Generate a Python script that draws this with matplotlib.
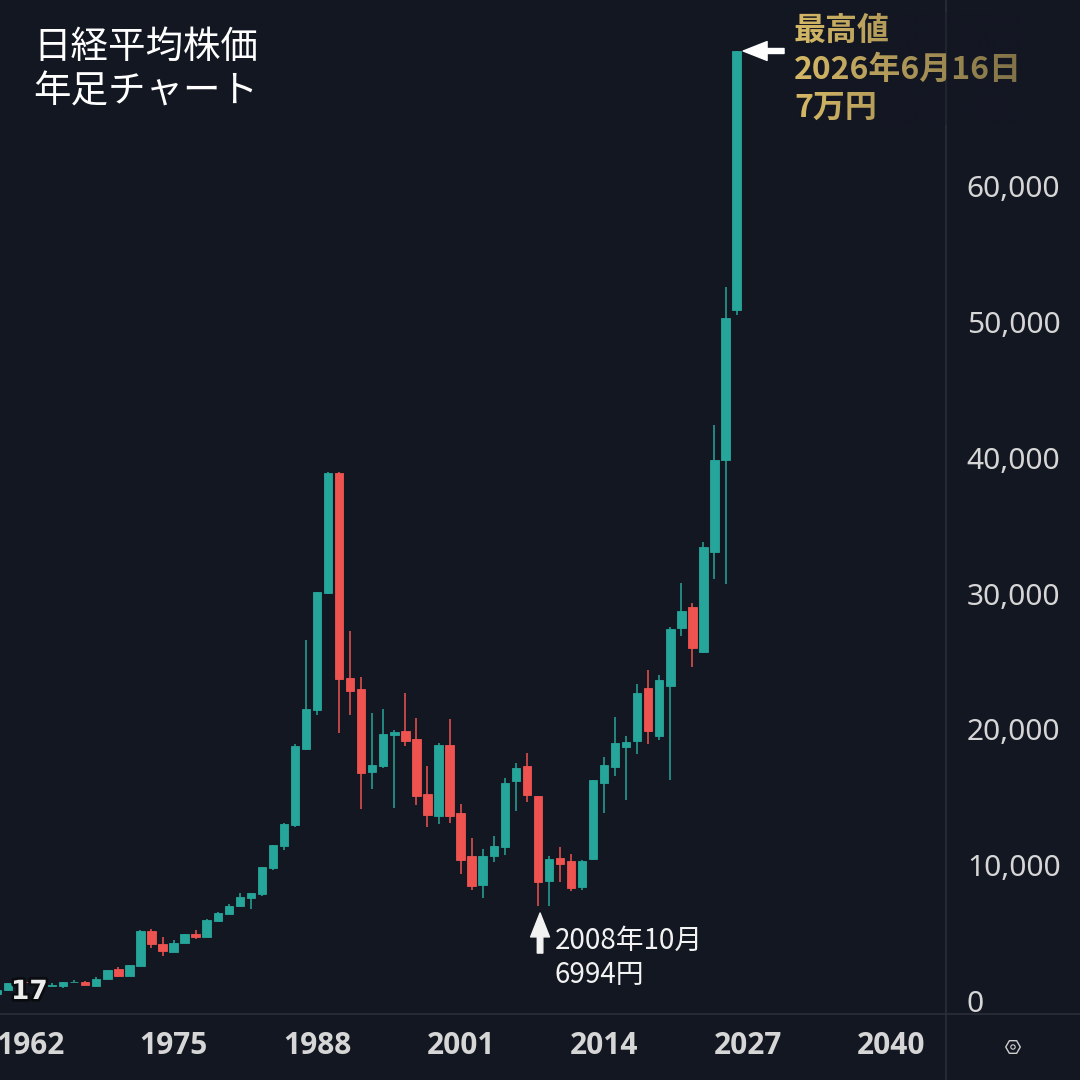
import numpy as np
import matplotlib
matplotlib.use('Agg')
import matplotlib.pyplot as plt
import matplotlib.patheffects as pe

# Nikkei 225 yearly candles
years = list(range(1959, 2027))
opens = [520, 780, 1360, 1420, 1400, 1130, 1105, 1390, 1400, 1105,
         1620, 2356, 1841, 2600, 5155, 4200, 3610, 4271, 4934, 4713,
         5891, 6407, 6996, 7585, 7880, 9794, 11414, 12961, 18557, 21429,
         30045, 38882, 23786, 22975, 16864, 17305, 19588, 19882, 19293, 15244,
         13623, 18851, 13844, 10678, 8542, 10678, 11340, 16200, 17305, 15096,
         8837, 10531, 10310, 8395, 10457, 16053, 17232, 18704, 19146, 23049,
         19515, 23197, 27468, 29014, 25700, 33064, 39839, 50885]
highs = [820, 1340, 1770, 1550, 1550, 1320, 1420, 1550, 1470, 1770,
         2300, 2500, 2680, 5200, 5300, 4710, 4490, 4960, 5230, 6040,
         6550, 7140, 7950, 7990, 9900, 11520, 13110, 18925, 26584, 30150,
         38920, 38920, 27247, 23859, 21208, 21503, 19956, 22681, 20840, 17305,
         18999, 20766, 14507, 12003, 11193, 12150, 16421, 17526, 18263, 15120,
         10678, 11340, 10825, 10383, 16300, 17968, 20914, 19515, 23344, 24375,
         24007, 27550, 30781, 29309, 33800, 42417, 52579, 69958]
lows = [500, 770, 1330, 1340, 1080, 1100, 980, 1380, 1160, 1090,
        1600, 1800, 1830, 2580, 3900, 3310, 3590, 4250, 4570, 4700,
        5880, 6390, 6920, 6775, 7730, 9650, 11120, 12813, 18483, 21061,
        30000, 19735, 21061, 14139, 15612, 17158, 14212, 18778, 14433, 12813,
        13034, 13108, 9352, 8174, 7585, 10236, 10751, 13992, 14654, 6994,
        7018, 8763, 8100, 8174, 10380, 13844, 16569, 14802, 18189, 18925,
        19220, 16274, 26879, 24596, 25600, 31076, 30708, 50517]
closes = [800, 1330, 1420, 1390, 1105, 1160, 1400, 1420, 1180, 1620,
          2280, 1841, 2651, 5155, 4200, 3680, 4270, 4934, 4713, 5965,
          6480, 6996, 7658, 7953, 9868, 11488, 13034, 18778, 21503, 30119,
          38882, 23712, 22828, 16790, 17379, 19662, 19809, 19146, 15096, 13697,
          18851, 13623, 10383, 8469, 10678, 11414, 16053, 17158, 15170, 8763,
          10457, 10089, 8321, 10310, 16274, 17379, 18999, 19073, 22681, 19882,
          23638, 27394, 28720, 25995, 33433, 39839, 50296, 69958]

x_ticks = list(range(1962, 2041, 13))
y_ticks = [0, 10000, 20000, 30000, 40000, 50000, 60000]

BG = '#131722'
UP = '#26a69a'
DOWN = '#ef5350'
GRID = '#2a2e39'
TXT = '#d6d6d6'
GOLD = '#d6b966'

fig = plt.figure(figsize=(10.8, 10.8), dpi=100, facecolor=BG)
ax = fig.add_axes([0, 66 / 1080, 946 / 1080, 1014 / 1080])
ax.set_facecolor(BG)

o = np.array(opens, dtype=float)
c = np.array(closes, dtype=float)
colors = [UP if cc >= oo else DOWN for oo, cc in zip(o, c)]

ax.vlines(years, lows, highs, colors=colors, lw=1.1, zorder=2)
ax.bar(years, np.abs(c - o), bottom=np.minimum(o, c), width=0.76,
       color=colors, edgecolor=colors, linewidth=0.6, zorder=3)

ax.set_xlim(1959.28, 2044.97)
ax.set_ylim(-957, 73714)

for s in ax.spines.values():
    s.set_visible(False)

ax.set_xticks(x_ticks)
ax.set_xticklabels([str(v) for v in x_ticks], fontfamily='Open Sans',
                   fontweight='bold', fontsize=21.5, color=TXT)
ax.yaxis.tick_right()
ax.set_yticks(y_ticks)
ax.set_yticklabels([f'{v:,}' for v in y_ticks], fontfamily='Noto Sans',
                   fontsize=21.5, color=TXT)
ax.tick_params(axis='x', length=0, pad=12)
ax.tick_params(axis='y', length=0, pad=15)

# arrows pointing at the high and the 2008 low
ax.annotate('', xy=(2026.6, 69958), xytext=(2030.3, 69958),
            arrowprops=dict(arrowstyle='simple,head_length=0.86,head_width=0.68,tail_width=0.18',
                            color='white', mutation_scale=20, shrinkA=0, shrinkB=0))
ax.annotate('', xy=(2008.2, 6480), xytext=(2008.2, 3530),
            arrowprops=dict(arrowstyle='simple,head_length=0.86,head_width=0.68,tail_width=0.2',
                            color='#f2f2f2', mutation_scale=20, shrinkA=0, shrinkB=0))

# overlay in pixel coordinates for texts and decorations
ov = fig.add_axes([0, 0, 1, 1])
ov.patch.set_alpha(0)
ov.axis('off')

ov.plot([946, 946], [0, 1080], color=GRID, lw=1.2)
ov.plot([0, 1080], [1014, 1014], color=GRID, lw=1.2)

cjk = ['Noto Sans CJK JP', 'DejaVu Sans']
ov.text(33, 47, '日経平均株価', fontsize=27, color='white', va='center', family=cjk)
ov.text(33, 92, '年足チャート', fontsize=27, color='white', va='center', family=cjk)

ov.text(794, 31, '最高値', fontsize=23, fontweight='bold', color=GOLD, va='center', family=cjk, zorder=4)
ov.text(794, 70, '2026年6月16日', fontsize=23, fontweight='bold', color=GOLD, va='center', family=cjk, zorder=4)
ov.text(794, 108, '7万円', fontsize=23, fontweight='bold', color=GOLD, va='center', family=cjk, zorder=4)

# darken the gold towards the right (background-coloured fade)
grad = np.zeros((1, 256, 4))
grad[..., :3] = matplotlib.colors.to_rgb(BG)
grad[..., 3] = np.linspace(0, 0.45, 256)
ov.imshow(grad, extent=(795, 1022, 125, 12), aspect='auto', interpolation='bilinear', zorder=5)

ov.text(555, 941, '2008年10月', fontsize=20, color='#f2f2f2', va='center', family=cjk)
ov.text(555, 975, '6994円', fontsize=20, color='#f2f2f2', va='center', family=cjk)

# logo and settings icon
ov.text(11, 992, '17', fontsize=19, fontweight='black', color='#ececec', va='center',
        path_effects=[pe.withStroke(linewidth=4, foreground='#0a0c10')])
ov.scatter([1013], [1047], marker='H', s=110, facecolors='none', edgecolors='#cfcfcf', lw=1)
ov.scatter([1013], [1047], marker='o', s=10, facecolors='none', edgecolors='#cfcfcf', lw=0.8)

ov.set_xlim(0, 1080)
ov.set_ylim(1080, 0)

fig.savefig('out.png', dpi=100, facecolor=BG)
